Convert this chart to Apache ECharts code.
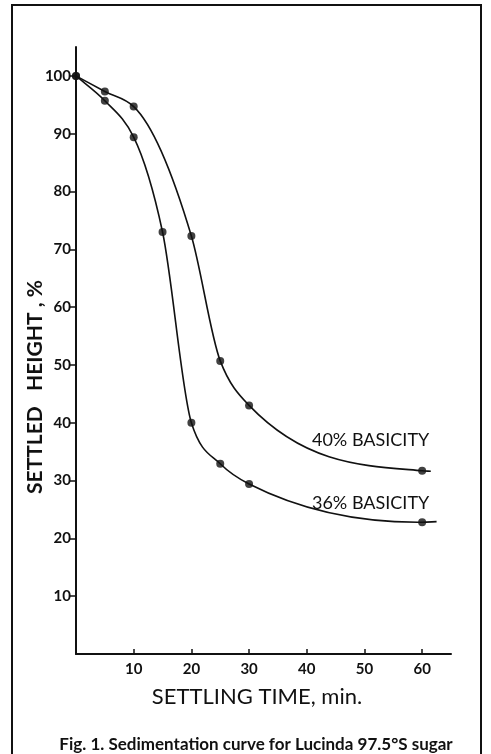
<!DOCTYPE html>
<html>
<head>
<meta charset="utf-8">
<script src="https://cdn.jsdelivr.net/npm/echarts@6/dist/echarts.min.js"></script>
<style>
html,body{margin:0;padding:0;background:#fff;}
#main{width:491px;height:754px;}
</style>
</head>
<body>
<div id="main"></div>
<script>
// Settling time (min) and settled height (%)
var time40 = [0, 5, 10, 20, 25, 30, 60];
var height40 = [100, 97.3, 94.7, 72.3, 50.7, 43.0, 31.7];
var time36 = [0, 5, 10, 15, 20, 25, 30, 60];
var height36 = [100, 95.7, 89.4, 73.0, 40.0, 32.9, 29.4, 22.8];
// where the drawn curves end beyond the last measured point
var curveEnd40 = [61.5, 31.6];
var curveEnd36 = [62.5, 22.9];
var xTicks = [10, 20, 30, 40, 50, 60];
var yTicks = [10, 20, 30, 40, 50, 60, 70, 80, 90, 100];
var label40 = {text: '40% BASICITY', at: [40.9, 36.9]};
var label36 = {text: '36% BASICITY', at: [40.9, 26.1]};

var FONT = 'Lato';
var INK = '#111';

function knots(xs, ys, end) {
  var k = xs.map(function (x, i) { return [x, ys[i]]; });
  k.push(end);
  return k;
}
// smooth curve through the knots (cubic Hermite; tangent = mean of the
// Fritsch-Carlson and three-point estimates), drawn as Bezier paths
// through the chart's own coordinate system
function curveSeries(k) {
  return {
    type: 'custom',
    coordinateSystem: 'cartesian2d',
    data: [[k[0][0], k[0][1]]],
    silent: true,
    z: 2,
    renderItem: function (params, api) {
      var n = k.length, s = [], h = [], m = [];
      for (var i = 0; i < n - 1; i++) {
        h[i] = k[i + 1][0] - k[i][0];
        s[i] = (k[i + 1][1] - k[i][1]) / h[i];
      }
      m[0] = s[0];
      m[n - 1] = s[n - 2];
      for (var j = 1; j < n - 1; j++) {
        var bessel = (s[j - 1] * h[j] + s[j] * h[j - 1]) / (h[j - 1] + h[j]);
        var fc = 0;
        if (s[j - 1] * s[j] > 0) {
          var w1 = 2 * h[j] + h[j - 1], w2 = h[j] + 2 * h[j - 1];
          fc = (w1 + w2) / (w1 / s[j - 1] + w2 / s[j]);
        }
        m[j] = (bessel + fc) / 2;
      }
      var p0 = api.coord(k[0]);
      var d = 'M' + p0[0] + ' ' + p0[1];
      for (var q = 0; q < n - 1; q++) {
        var c1 = api.coord([k[q][0] + h[q] / 3, k[q][1] + m[q] * h[q] / 3]);
        var c2 = api.coord([k[q + 1][0] - h[q] / 3, k[q + 1][1] - m[q + 1] * h[q] / 3]);
        var e = api.coord(k[q + 1]);
        d += ' C' + c1[0] + ' ' + c1[1] + ' ' + c2[0] + ' ' + c2[1] + ' ' + e[0] + ' ' + e[1];
      }
      return {
        type: 'path',
        shape: {pathData: d},
        style: {fill: 'none', stroke: INK, lineWidth: 1.6}
      };
    }
  };
}
function pointSeries(name, xs, ys, lab) {
  return {
    name: name,
    type: 'scatter',
    data: xs.map(function (x, i) { return [x, ys[i]]; }),
    symbol: 'circle',
    symbolSize: 8,
    itemStyle: {color: INK},
    z: 3,
    markPoint: {
      symbol: 'circle',
      symbolSize: 0,
      data: [{coord: lab.at, value: lab.text}],
      label: {
        show: true, position: 'right', distance: 0,
        formatter: lab.text,
        color: INK, fontFamily: FONT, fontSize: 18
      }
    }
  };
}

var chart = echarts.init(document.getElementById('main'));
chart.setOption({
  animation: false,
  backgroundColor: '#fff',
  grid: {left: 76, right: 40, top: 47, bottom: 100, containLabel: false},
  xAxis: {
    type: 'value', min: 0, max: 65, interval: 10,
    splitLine: {show: false},
    axisLine: {lineStyle: {color: INK, width: 2}},
    axisTick: {show: true, inside: true, length: 5, lineStyle: {color: INK, width: 1.5},
      customValues: xTicks},
    axisLabel: {
      color: INK, fontFamily: FONT, fontSize: 15, fontWeight: 'bold', margin: 8,
      customValues: xTicks
    }
  },
  yAxis: {
    type: 'value', min: 0, max: 105, interval: 10,
    splitLine: {show: false},
    axisLine: {onZero: false, lineStyle: {color: INK, width: 2}},
    axisTick: {show: true, inside: false, length: 6, lineStyle: {color: INK, width: 1.5},
      customValues: yTicks},
    axisLabel: {
      color: INK, fontFamily: FONT, fontSize: 15, fontWeight: 'bold', margin: 5,
      customValues: yTicks
    }
  },
  series: [
    curveSeries(knots(time40, height40, curveEnd40)),
    curveSeries(knots(time36, height36, curveEnd36)),
    pointSeries('40% BASICITY', time40, height40, label40),
    pointSeries('36% BASICITY', time36, height36, label36)
  ],
  graphic: [
    {type: 'rect', shape: {x: 12, y: 5, width: 469, height: 760},
     style: {fill: null, stroke: INK, lineWidth: 2}, silent: true},
    {type: 'text', x: 35, y: 387, rotation: Math.PI / 2,
     style: {text: 'SETTLED   HEIGHT , %', fill: INK, font: 'bold 21px ' + FONT,
       textAlign: 'center', textVerticalAlign: 'middle'}},
    {type: 'text', x: 257, y: 697,
     style: {text: 'SETTLING TIME, min.', fill: INK, font: '22px ' + FONT,
       textAlign: 'center', textVerticalAlign: 'middle'}},
    {type: 'text', x: 256, y: 745,
     style: {text: 'Fig. 1. Sedimentation curve for Lucinda 97.5\u00B0S sugar', fill: INK,
       font: 'bold 17px ' + FONT, textAlign: 'center', textVerticalAlign: 'middle'}}
  ]
});
</script>
</body>
</html>
